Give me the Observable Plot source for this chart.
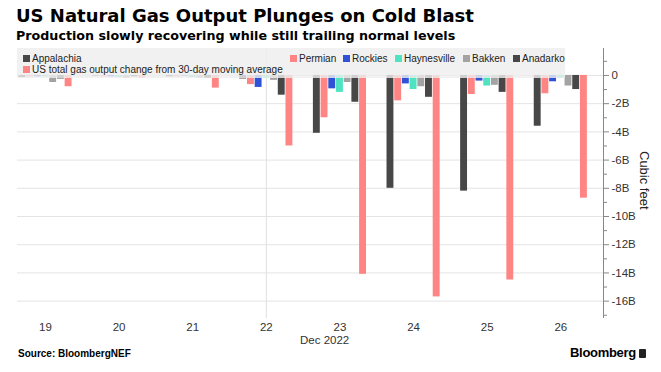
<!DOCTYPE html>
<html>
<head>
<meta charset="utf-8">
<script src="https://cdn.jsdelivr.net/npm/d3@7"></script>
<script src="https://cdn.jsdelivr.net/npm/@observablehq/plot@0.6"></script>
<style>
  html, body { margin: 0; padding: 0; background: #fff; }
  body { width: 661px; height: 372px; position: relative; overflow: hidden; font-family: "Liberation Sans", Arial, sans-serif; color: #000; }
  #title { position: absolute; left: 16px; top: 5px; font-family: "DejaVu Sans", sans-serif; font-size: 18px; font-weight: bold; white-space: nowrap; }
  #subtitle { position: absolute; left: 16px; top: 28px; font-family: "DejaVu Sans", sans-serif; font-size: 12.7px; font-weight: bold; white-space: nowrap; }
  #chart { position: absolute; left: 0; top: 45px; }
  #legend { position: absolute; left: 17px; top: 48px; width: 548px; height: 30px; background: rgba(238,238,238,0.82); }
  .li { position: absolute; font-size: 10px; color: #222; white-space: nowrap; line-height: 11px; }
  .sw { display: inline-block; width: 7px; height: 7px; margin-right: 2px; vertical-align: 0px; }
  #ylabel { position: absolute; left: 637px; top: 151px; writing-mode: vertical-rl; font-size: 13px; color: #222; }
  #xsub { position: absolute; left: 300px; top: 334px; font-size: 11.5px; color: #333; }
  #source { position: absolute; left: 18px; top: 348px; font-size: 10px; font-weight: bold; }
  #brand { position: absolute; left: 570px; top: 345px; font-size: 13px; font-weight: bold; letter-spacing: -0.3px; }
  #brand span { display: inline-block; width: 7px; height: 9px; background: #222; margin-left: 3px; vertical-align: -1px; border-radius: 1px; }
</style>
</head>
<body>
<div id="title">US Natural Gas Output Plunges on Cold Blast</div>
<div id="subtitle">Production slowly recovering while still trailing normal levels</div>
<div id="chart"></div>
<div id="legend"></div>
<div id="ylabel">Cubic feet</div>
<div id="xsub">Dec 2022</div>
<div id="source">Source: BloombergNEF</div>
<div id="brand">Bloomberg<span></span></div>
<script>
// ---- data (billion cubic feet, change vs 30-day moving average) ----
const days = [19, 20, 21, 22, 23, 24, 25, 26];
const seriesNames = ["Appalachia", "Permian", "Rockies", "Haynesville", "Bakken", "Anadarko",
  "US total gas output change from 30-day moving average"];
const appalachia  = [-0.15, -0.05, -0.1, -0.25, -4.1, -8.0, -8.2, -3.6];
const permian     = [-0.1, -0.1, -0.1, -0.65, -3.0, -1.8, -1.35, -1.3];
const rockies     = [-0.1, -0.1, -0.05, -0.85, -0.95, -0.6, -0.4, -0.45];
const haynesville = [-0.1, -0.15, -0.15, -0.2, -1.2, -1.0, -0.75, -0.2];
const bakken      = [-0.5, -0.2, -0.2, -0.35, -0.5, -0.8, -0.7, -0.75];
const anadarko    = [-0.25, -0.1, -0.2, -1.4, -1.9, -1.55, -1.2, -1.0];
const usTotal     = [-0.8, -0.2, -0.9, -5.0, -14.1, -15.7, -14.5, -8.7];
const yMajorTicks = [0, -2, -4, -6, -8, -10, -12, -14, -16];
const yTickLabels = ["0", "-2B", "-4B", "-6B", "-8B", "-10B", "-12B", "-14B", "-16B"];
const yMinorTicks = [1, -1, -3, -5, -7, -9, -11, -13, -15, -17];
const xTickLabels = ["19", "20", "21", "22", "23", "24", "25", "26"];

// ---- styling ----
const colors = ["#474747", "#ff8585", "#2f52d6", "#4fe3c1", "#a3a3a3", "#474747", "#ff8585"];
const legendPos = [[6, 5], [273, 5], [326, 5], [378, 5], [446, 5], [496, 5], [6, 16]];
const allSeries = [appalachia, permian, rockies, haynesville, bakken, anadarko, usTotal];
const slot = 0.1046; // width of one bar slot in days

const bars = [];
days.forEach((d, j) => {
  allSeries.forEach((s, i) => {
    bars.push({day: d, idx: i, name: seriesNames[i], value: s[j], color: colors[i]});
  });
});

const xDomain = [18.62, 26.58];
const yDomain = [-17.23, 1.91];

const chart = Plot.plot({
  width: 661,
  height: 305,
  marginLeft: 17,
  marginRight: 58,
  marginTop: 3,
  marginBottom: 32,
  style: {fontFamily: "Liberation Sans, Arial, sans-serif", fontSize: "11px", color: "#333", background: "transparent"},
  x: {domain: xDomain, axis: null},
  y: {domain: yDomain, axis: null},
  marks: [
    Plot.ruleY(yMajorTicks, {stroke: "#e4e4e4", strokeWidth: 1}),
    Plot.ruleX([22], {stroke: "#e0e0e0", strokeWidth: 1}),
    Plot.rectY(bars, {
      x1: d => d.day + (d.idx - 3.5) * slot,
      x2: d => d.day + (d.idx - 2.5) * slot,
      y1: 0,
      y2: "value",
      fill: "color",
      insetLeft: 0.4,
      insetRight: 0.4
    }),
    Plot.ruleX([xDomain[1]], {y1: yDomain[0], y2: yDomain[1], stroke: "#888", strokeWidth: 1}),
    Plot.axisY(yMajorTicks, {
      anchor: "right", tickSize: 5, tickPadding: 3, stroke: "#888",
      tickFormat: (d) => yTickLabels[yMajorTicks.indexOf(d)],
      fontSize: 11.5, fill: "#333", label: null
    }),
    Plot.axisY(yMinorTicks, {
      anchor: "right", tickSize: 3, stroke: "#888", tickFormat: () => "", label: null
    }),
    Plot.axisX(days, {
      tickSize: 0, tickPadding: 4, tickFormat: d => xTickLabels[days.indexOf(d)],
      fontSize: 11.5, fill: "#333", label: null
    })
  ]
});
document.getElementById("chart").appendChild(chart);

// legend
const legend = document.getElementById("legend");
seriesNames.forEach((n, i) => {
  const el = document.createElement("div");
  el.className = "li";
  el.style.left = legendPos[i][0] + "px";
  el.style.top = legendPos[i][1] + "px";
  el.innerHTML = `<span class="sw" style="background:${colors[i]}"></span>${n}`;
  legend.appendChild(el);
});
</script>
</body>
</html>
